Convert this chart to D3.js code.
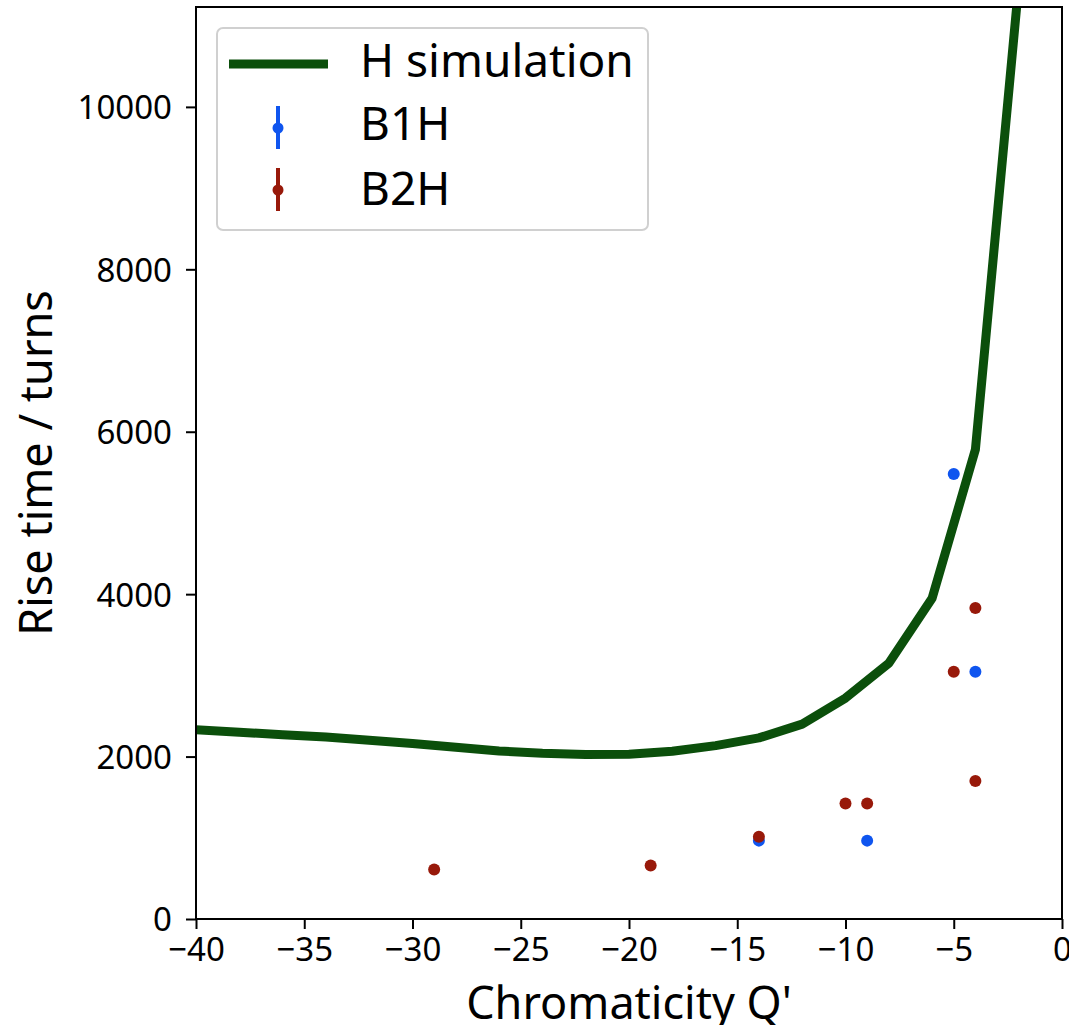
<!DOCTYPE html>
<html><head><meta charset="utf-8">
<script src="https://cdn.jsdelivr.net/npm/d3@7"></script>
<style>body{margin:0;background:#fff;} text{font-family:"Noto Sans","Open Sans",sans-serif;fill:#000;}</style>
</head><body>
<svg id="c" width="1069" height="1025"></svg>
<script>
// Simulation curve (H simulation)
const simQ = [-40,-38,-36,-34,-32,-30,-28,-26,-24,-22,-20,-18,-16,-14,-12,-10,-8,-6,-4,-2];
const simRise = [2330,2300,2270,2240,2200,2160,2115,2070,2040,2025,2030,2065,2135,2230,2400,2720,3150,3950,5780,11500];
// Measurements
const b1hQ = [-14,-9,-5,-4];
const b1hRise = [965,965,5480,3045];
const b2hQ = [-29,-19,-14,-10,-9,-5,-4,-4];
const b2hRise = [610,658,1012,1422,1422,3045,3830,1700];
const xTicks = [-40,-35,-30,-25,-20,-15,-10,-5,0];
const yTicks = [0,2000,4000,6000,8000,10000];
const seriesNames = ["H simulation","B1H","B2H"];

const svg = d3.select("#c");
const L=196,R=1062,T=7,B=919;
const x = d3.scaleLinear().domain([-40,0]).range([L,R]);
const y = d3.scaleLinear().domain([0,11230]).range([B,T]);
const green="#0b4f0b", blue="#0f55ef", red="#98190a";

svg.append("defs").append("clipPath").attr("id","clip")
  .append("rect").attr("x",L).attr("y",T).attr("width",R-L).attr("height",B-T);

const fmtMinus = d => (d<0 ? "\u2212"+Math.abs(d) : String(d));

const gx = svg.append("g").attr("transform",`translate(0,${B})`)
  .call(d3.axisBottom(x).tickValues(xTicks).tickFormat(fmtMinus).tickSize(10).tickPadding(9));
gx.select(".domain").remove();
gx.selectAll("line").attr("stroke","#000").attr("stroke-width",2);
gx.selectAll("text").attr("font-size",33).attr("fill","#222");

const gy = svg.append("g").attr("transform",`translate(${L},0)`)
  .call(d3.axisLeft(y).tickValues(yTicks).tickFormat(d=>String(d)).tickSize(10).tickPadding(14));
gy.select(".domain").remove();
gy.selectAll("line").attr("stroke","#000").attr("stroke-width",2);
gy.selectAll("text").attr("font-size",33).attr("fill","#222").attr("dy","0.36em");

// data
const plot = svg.append("g").attr("clip-path","url(#clip)");
const simData = simQ.map((q,i)=>[q,simRise[i]]);
plot.append("path").datum(simData)
  .attr("d", d3.line().x(d=>x(d[0])).y(d=>y(d[1])))
  .attr("fill","none").attr("stroke",green).attr("stroke-width",9).attr("stroke-linejoin","round");

plot.selectAll(".b1").data(b1hQ.map((q,i)=>[q,b1hRise[i]])).enter().append("circle")
  .attr("cx",d=>x(d[0])).attr("cy",d=>y(d[1])).attr("r",6).attr("fill",blue);
plot.selectAll(".b2").data(b2hQ.map((q,i)=>[q,b2hRise[i]])).enter().append("circle")
  .attr("cx",d=>x(d[0])).attr("cy",d=>y(d[1])).attr("r",6).attr("fill",red);

// frame
svg.append("rect").attr("x",L).attr("y",T).attr("width",R-L).attr("height",B-T)
  .attr("fill","none").attr("stroke","#000").attr("stroke-width",2);

// axis labels
svg.append("text").attr("x",(L+R)/2).attr("y",1019).attr("text-anchor","middle")
  .attr("font-size",45).attr("fill","#222").text("Chromaticity Q'");
svg.append("text").attr("transform",`translate(52,${(T+B)/2}) rotate(-90)`).attr("text-anchor","middle")
  .attr("font-size",45).attr("fill","#222").text("Rise time / turns");

// legend
const lg = svg.append("g");
lg.append("rect").attr("x",217).attr("y",28).attr("width",431).attr("height",202).attr("rx",6)
  .attr("fill","#fff").attr("fill-opacity",0.85).attr("stroke","#d0d0d0").attr("stroke-width",2);
lg.append("line").attr("x1",229).attr("x2",328).attr("y1",64).attr("y2",64).attr("stroke",green).attr("stroke-width",9);
[[blue,128],[red,190]].forEach(([c,cy])=>{
  lg.append("line").attr("x1",278).attr("x2",278).attr("y1",cy-22).attr("y2",cy+21).attr("stroke",c).attr("stroke-width",4);
  lg.append("circle").attr("cx",278).attr("cy",cy).attr("r",5.5).attr("fill",c);
});
[77,140,205].forEach((by,i)=>{
  lg.append("text").attr("x",360).attr("y",by).attr("font-size",46).attr("fill","#111").text(seriesNames[i]);
});
</script>
</body></html>
